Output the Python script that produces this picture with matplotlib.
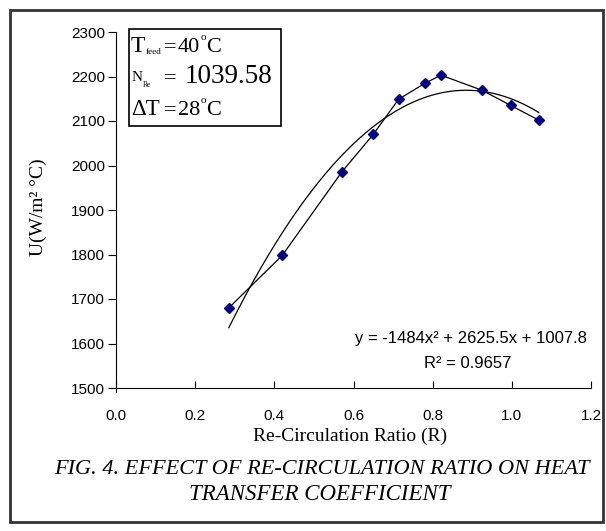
import numpy as np
import matplotlib.pyplot as plt
from matplotlib.patches import Rectangle

# values
ratio = [0.285, 0.420, 0.571, 0.650, 0.714, 0.781, 0.821, 0.925, 0.997, 1.068]
u_coef = [1680, 1798, 1986, 2070, 2149, 2185, 2203, 2169, 2135, 2102]
trend_coef = [-1484, 2625.5, 1007.8]   # y = -1484x^2 + 2625.5x + 1007.8
r_squared = 0.9657
x_ticks = [0.0, 0.2, 0.4, 0.6, 0.8, 1.0, 1.2]
y_ticks = [1500, 1600, 1700, 1800, 1900, 2000, 2100, 2200, 2300]

W, H = 606, 531
serif = 'Liberation Serif'
sans = 'Liberation Sans'

fig = plt.figure(figsize=(W / 100, H / 100), dpi=100)

def px(x, y):
    # pixel position (from top-left) -> figure fraction
    return x / W, 1 - y / H

def ftext(x, y, s, **kw):
    fx, fy = px(x, y)
    fig.text(fx, fy, s, **kw)

# outer frame round the whole figure
fig.patches.append(Rectangle(px(10, 522), 593 / W, 512 / H, transform=fig.transFigure,
                             fill=False, edgecolor='#333333', linewidth=2))

l, t = px(116, 32)
r, b = px(591, 388)
ax = fig.add_axes([l, b, r - l, t - b])

ax.plot(ratio, u_coef, color='black', lw=0.9, marker='D', ms=5.5,
        mfc='#000080', mec='#000080', zorder=3)
xs = np.linspace(ratio[0], ratio[-1], 200)
ax.plot(xs, np.polyval(trend_coef, xs), color='black', lw=0.9)

ax.set_xlim(0, 1.2)
ax.set_ylim(1500, 2300)
ax.set_xticks(x_ticks)
ax.set_yticks(y_ticks)
ax.set_xticklabels([f'{v:.1f}' for v in x_ticks], fontfamily=sans, fontsize=11)
ax.set_yticklabels([str(v) for v in y_ticks], fontfamily=sans, fontsize=11)
ax.tick_params(axis='x', direction='in', length=5, width=0.8, pad=15)
ax.tick_params(axis='y', direction='out', length=6, width=0.8, pad=2)
for s in ['top', 'right']:
    ax.spines[s].set_visible(False)
for s in ['left', 'bottom']:
    ax.spines[s].set_linewidth(0.8)
ax.spines['left'].set_bounds(1490, 2300)

# trendline label
eq = f'y = {trend_coef[0]:g}x\u00b2 + {trend_coef[1]:g}x + {trend_coef[2]:g}'
ftext(471, 343, eq, fontfamily=sans, fontsize=12, ha='center', va='baseline')
ftext(468, 368, f'R\u00b2 = {r_squared}', fontfamily=sans, fontsize=12,
      ha='center', va='baseline')

# info box
bx0, by0 = px(129, 126)
bx1, by1 = px(281, 29)
fig.patches.append(Rectangle((bx0, by0), bx1 - bx0, by1 - by0, transform=fig.transFigure,
                             fill=True, facecolor='white', edgecolor='black', linewidth=1.2, zorder=5))
kw = dict(fontfamily=serif, va='baseline', zorder=6)
big = 16
ftext(131, 52, 'T', fontsize=17, **kw)
ftext(145.5, 54, 'feed', fontsize=6.5, **kw)
ftext(163.5, 52, '=', fontsize=big, **kw)
ftext(178, 52, '40', fontsize=big, **kw)
ftext(201, 40, 'o', fontsize=8, **kw)
ftext(206, 52, 'C', fontsize=big, **kw)
ftext(131.5, 81, 'N', fontsize=11, **kw)
ftext(142.5, 87, 'Re', fontsize=5.5, **kw)
ftext(163.5, 83, '=', fontsize=big, **kw)
ftext(185, 83, '1039.58', fontsize=19.5, **kw)
ftext(131, 115, '\u0394T', fontsize=16.5, **kw)
ftext(163.5, 115, '=', fontsize=big, **kw)
ftext(178, 115, '28', fontsize=big, **kw)
ftext(201, 103, 'o', fontsize=8, **kw)
ftext(206, 115, 'C', fontsize=big, **kw)

# axis titles and caption
ftext(38, 207, 'U(W/m\u00b2 \u00b0C)', fontfamily=serif, fontsize=14,
      rotation=90, ha='center', va='center')
ftext(350, 436, 'Re-Circulation Ratio (R)', fontfamily=serif, fontsize=14,
      ha='center', va='center')
ftext(322, 470, 'FIG. 4. EFFECT OF RE-CIRCULATION RATIO ON HEAT', fontfamily=serif,
      fontsize=16, style='italic', ha='center', va='center')
ftext(320, 495, 'TRANSFER COEFFICIENT', fontfamily=serif,
      fontsize=16.5, style='italic', ha='center', va='center')

fig.savefig('out.png', dpi=100)
